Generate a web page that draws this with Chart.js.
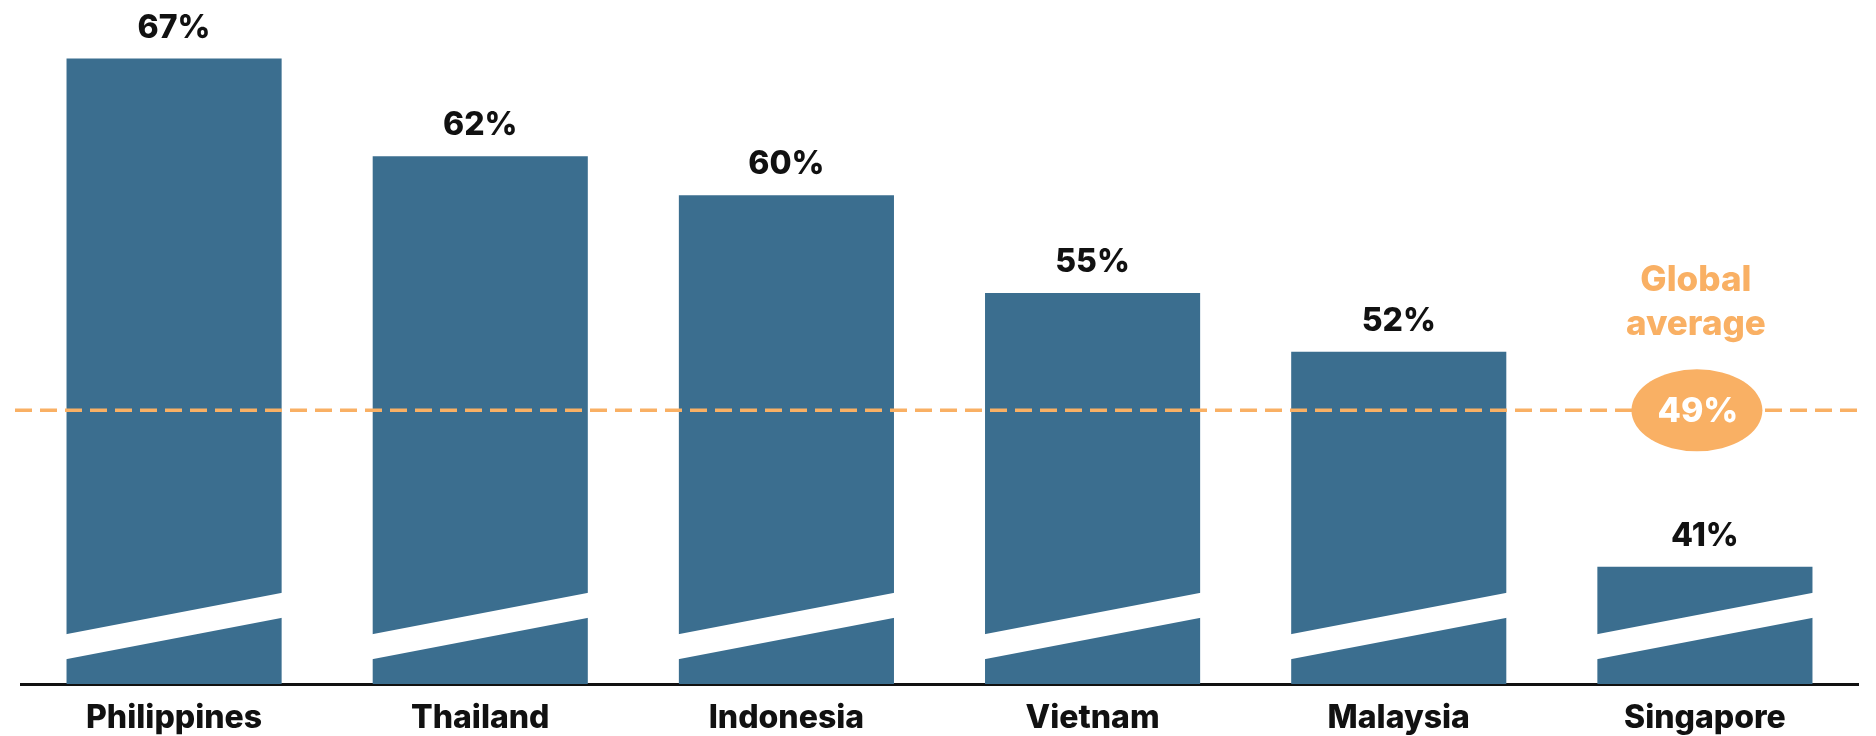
<!DOCTYPE html>
<html lang="en">
<head>
    <meta charset="UTF-8">
    <title>Share by country vs global average</title>
    <script src="https://cdn.jsdelivr.net/npm/chart.js"></script>
    <style>
        html, body { margin: 0; padding: 0; background: #ffffff; }
        #wrap { width: 1876px; height: 736px; }
    </style>
</head>
<body>
    <div id="wrap"><canvas id="chart" width="1876" height="736"></canvas></div>

    <script>
        const countries = ['Philippines', 'Thailand', 'Indonesia', 'Vietnam', 'Malaysia', 'Singapore'];
        const shares = [67, 62, 60, 55, 52, 41];
        const globalAverage = 49;
        const averageLabel = ['Global', 'average'];

        // axis is cut (bars start at 35%), see the white slant on each bar
        const axisMin = 35;
        const axisMax = 68;

        const barBlue = '#3b6e8f';
        const orange = '#f9b064';
        const ink = '#111111';
        const fontFamily = "Inter, 'Liberation Sans', Arial, sans-serif";

        Chart.defaults.font.family = fontFamily;

        // --- white slanted band near the foot of each bar (axis break) ---
        const breakPlugin = {
            id: 'axisBreak',
            afterDatasetsDraw(chart) {
                const ctx = chart.ctx;
                const base = chart.chartArea.bottom;
                chart.getDatasetMeta(0).data.forEach(bar => {
                    const half = bar.width / 2;
                    const slope = 41 / bar.width;
                    const l = bar.x - half - 2;
                    const r = bar.x + half + 2;
                    ctx.save();
                    ctx.fillStyle = '#ffffff';
                    ctx.beginPath();
                    ctx.moveTo(l, base - 50 + 2 * slope);
                    ctx.lineTo(r, base - 91 - 2 * slope);
                    ctx.lineTo(r, base - 66 - 2 * slope);
                    ctx.lineTo(l, base - 25 + 2 * slope);
                    ctx.closePath();
                    ctx.fill();
                    ctx.restore();
                });
            }
        };

        // --- percentage above each bar ---
        const valueLabels = {
            id: 'valueLabels',
            afterDatasetsDraw(chart) {
                const ctx = chart.ctx;
                ctx.save();
                ctx.fillStyle = ink;
                ctx.font = `800 32px ${fontFamily}`;
                ctx.textAlign = 'center';
                ctx.textBaseline = 'alphabetic';
                chart.getDatasetMeta(0).data.forEach((bar, i) => {
                    ctx.fillText(shares[i] + '%', bar.x, bar.y - 21);
                });
                ctx.restore();
            }
        };

        // --- dashed global average line with its badge ---
        const averageLine = {
            id: 'averageLine',
            afterDatasetsDraw(chart) {
                const ctx = chart.ctx;
                const area = chart.chartArea;
                const y = chart.scales.y.getPixelForValue(globalAverage);
                const bars = chart.getDatasetMeta(0).data;
                const cx = bars[bars.length - 1].x - 8;

                ctx.save();
                ctx.strokeStyle = orange;
                ctx.lineWidth = 3.5;
                ctx.setLineDash([17, 8]);
                ctx.beginPath();
                ctx.moveTo(area.left - 6, y);
                ctx.lineTo(area.right + 6, y);
                ctx.stroke();
                ctx.setLineDash([]);

                ctx.fillStyle = orange;
                ctx.beginPath();
                ctx.ellipse(cx, y, 65.5, 41, 0, 0, Math.PI * 2);
                ctx.fill();

                ctx.textAlign = 'center';
                ctx.textBaseline = 'middle';
                ctx.fillStyle = '#ffffff';
                ctx.font = `800 34px ${fontFamily}`;
                ctx.fillText(globalAverage + '%', cx + 1, y + 1);

                ctx.textBaseline = 'alphabetic';
                ctx.fillStyle = orange;
                ctx.font = `800 35px ${fontFamily}`;
                ctx.fillText(averageLabel[0], cx - 1, y - 119);
                ctx.fillText(averageLabel[1], cx - 1, y - 75);
                ctx.restore();
            }
        };

        const ctx = document.getElementById('chart').getContext('2d');

        new Chart(ctx, {
            type: 'bar',
            data: {
                labels: countries,
                datasets: [{
                    data: shares,
                    backgroundColor: barBlue,
                    borderWidth: 0,
                    barPercentage: 0.7026,
                    categoryPercentage: 1
                }]
            },
            options: {
                responsive: false,
                animation: false,
                layout: { padding: { left: 21, right: 18, top: 39, bottom: 0 } },
                plugins: {
                    legend: { display: false },
                    tooltip: { enabled: false }
                },
                scales: {
                    x: {
                        grid: { display: false, drawTicks: false },
                        border: { display: true, color: ink, width: 3 },
                        ticks: {
                            color: ink,
                            padding: 15,
                            font: { size: 32, weight: '800' }
                        },
                        afterFit: scale => { scale.height = 52; }
                    },
                    y: {
                        display: false,
                        min: axisMin,
                        max: axisMax
                    }
                }
            },
            plugins: [breakPlugin, valueLabels, averageLine]
        });
    </script>
</body>
</html>
